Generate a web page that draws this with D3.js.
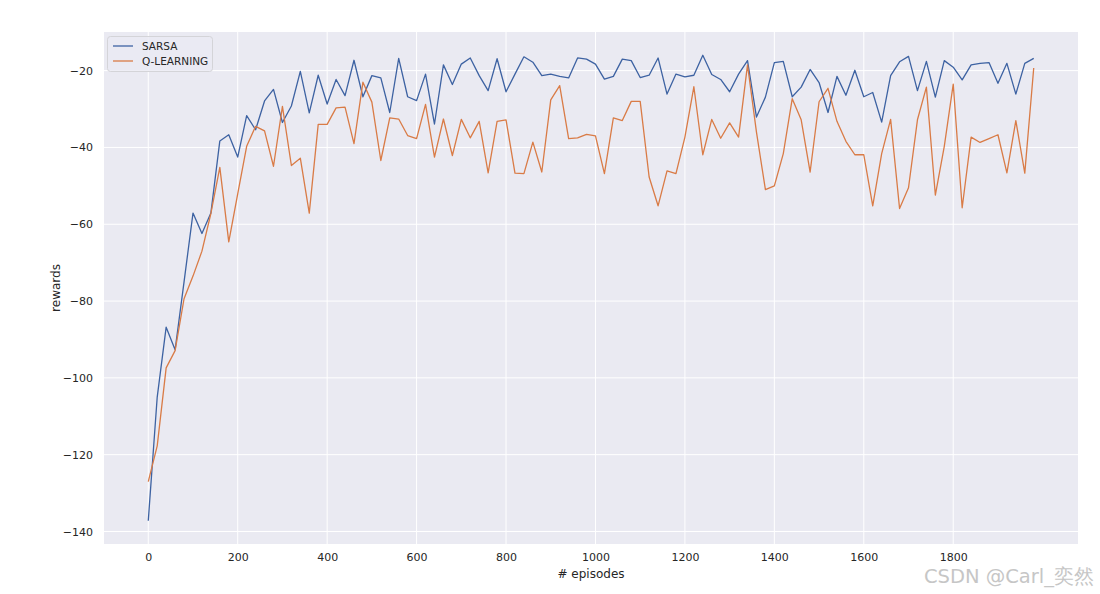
<!DOCTYPE html>
<html>
<head>
<meta charset="utf-8">
<script src="https://cdn.jsdelivr.net/npm/d3@7"></script>
<style>
  body { margin: 0; background: #fff; }
  text { font-family: "DejaVu Sans", sans-serif; }
</style>
</head>
<body>
<svg id="chart"></svg>
<script>
// episodes 0, 20, ..., 1980
let episodes = d3.range(0, 2000, 20);

let sarsa = [
  -137.2, -105.0, -86.8, -92.7, -75.0, -57.1, -62.4, -57.1, -38.3, -36.7,
  -42.5, -31.7, -35.4, -27.9, -24.9, -33.5, -29.2, -20.2, -31.0, -21.2,
  -28.7, -22.3, -26.5, -17.3, -26.8, -21.3, -21.9, -30.9, -16.8, -26.8,
  -27.8, -20.9, -33.9, -18.5, -23.6, -18.3, -16.7, -21.3, -25.2, -16.9,
  -25.5, -20.9, -16.4, -17.8, -21.3, -20.9, -21.5, -21.9, -16.7, -17.0,
  -18.3, -22.2, -21.5, -17.0, -17.4, -21.8, -21.2, -16.7, -26.1, -20.9,
  -21.6, -21.2, -16.0, -21.0, -22.3, -25.5, -20.9, -17.4, -32.1, -26.9,
  -17.9, -17.6, -26.8, -24.3, -19.7, -23.1, -30.9, -21.5, -26.4, -19.9,
  -26.8, -25.7, -33.4, -21.3, -17.7, -16.3, -25.2, -17.6, -26.9, -17.4,
  -19.1, -22.4, -18.5, -18.1, -17.9, -23.3, -18.1, -26.1, -18.1, -16.8
];

let qlearning = [
  -127.0, -117.7, -97.4, -92.9, -79.4, -73.5, -67.0, -57.2, -45.2, -64.6,
  -52.1, -39.7, -34.5, -35.7, -44.9, -29.3, -44.7, -42.8, -57.1, -34.0,
  -34.0, -29.7, -29.5, -39.0, -23.0, -28.2, -43.4, -32.3, -32.6, -36.9,
  -37.7, -28.8, -42.5, -32.6, -42.1, -32.7, -37.5, -33.2, -46.6, -33.2,
  -32.8, -46.7, -46.8, -38.6, -46.4, -27.6, -23.9, -37.7, -37.5, -36.6,
  -37.0, -46.8, -32.3, -33.0, -28.0, -28.0, -47.7, -55.2, -46.1, -46.8,
  -37.3, -24.2, -41.9, -32.7, -37.6, -33.6, -37.3, -18.5, -36.0, -51.0,
  -50.0, -41.6, -27.3, -32.8, -46.4, -28.1, -24.6, -33.2, -38.4, -41.9,
  -41.9, -55.2, -41.6, -32.7, -55.9, -50.5, -32.8, -24.3, -52.4, -39.7,
  -23.5, -55.7, -37.3, -38.7, -37.7, -36.7, -46.6, -33.0, -46.7, -19.3
];

let seriesNames = ["SARSA", "Q-LEARNING"];
let seriesColors = ["#3d62a2", "#d97b46"];
let xTicks = [0, 200, 400, 600, 800, 1000, 1200, 1400, 1600, 1800];
let yTicks = [-140, -120, -100, -80, -60, -40, -20];

let size = {width: 1100, height: 594};
let margin = {left: 104, right: 22, top: 32, bottom: 50};

let svg = d3.select("#chart")
  .attr("width", size.width)
  .attr("height", size.height);

// matplotlib style 5% margins
let xExt = d3.extent(episodes);
let xPad = (xExt[1] - xExt[0]) * 0.05;
let yExt = d3.extent(sarsa.concat(qlearning));
let yPad = (yExt[1] - yExt[0]) * 0.05;

let x = d3.scaleLinear()
  .domain([xExt[0] - xPad, xExt[1] + xPad])
  .range([margin.left, size.width - margin.right]);

let y = d3.scaleLinear()
  .domain([yExt[0] - yPad, yExt[1] + yPad])
  .range([size.height - margin.bottom, margin.top]);

// background
svg.append("rect")
  .attr("x", margin.left)
  .attr("y", margin.top)
  .attr("width", size.width - margin.left - margin.right)
  .attr("height", size.height - margin.top - margin.bottom)
  .attr("fill", "#eaeaf2");

let fmt = d => d < 0 ? "\u2212" + Math.abs(d) : "" + d;

// grid
svg.append("g")
  .selectAll("line")
  .data(xTicks)
  .enter().append("line")
  .attr("x1", d => x(d)).attr("x2", d => x(d))
  .attr("y1", margin.top).attr("y2", size.height - margin.bottom)
  .attr("stroke", "white").attr("stroke-width", 1);

svg.append("g")
  .selectAll("line")
  .data(yTicks)
  .enter().append("line")
  .attr("x1", margin.left).attr("x2", size.width - margin.right)
  .attr("y1", d => y(d)).attr("y2", d => y(d))
  .attr("stroke", "white").attr("stroke-width", 1);

// axes (no tick marks, seaborn darkgrid)
let xAxis = svg.append("g")
  .attr("transform", `translate(0,${size.height - margin.bottom})`)
  .call(d3.axisBottom(x).tickValues(xTicks).tickFormat(fmt).tickSize(0).tickPadding(9));
let yAxis = svg.append("g")
  .attr("transform", `translate(${margin.left},0)`)
  .call(d3.axisLeft(y).tickValues(yTicks).tickFormat(fmt).tickSize(0).tickPadding(11));

[xAxis, yAxis].forEach(a => {
  a.select(".domain").remove();
  a.selectAll("text")
    .attr("font-family", "DejaVu Sans")
    .attr("font-size", "11px")
    .attr("fill", "#262626");
});

// lines
let line = d3.line()
  .x((d, i) => x(episodes[i]))
  .y(d => y(d));

[sarsa, qlearning].forEach((s, k) => {
  svg.append("path")
    .datum(s)
    .attr("fill", "none")
    .attr("stroke", seriesColors[k])
    .attr("stroke-width", 1.3)
    .attr("stroke-linejoin", "round")
    .attr("d", line);
});

// axis labels
svg.append("text")
  .attr("x", (margin.left + size.width - margin.right) / 2)
  .attr("y", 578)
  .attr("text-anchor", "middle")
  .attr("font-size", "12px")
  .attr("fill", "#262626")
  .text("# episodes");

svg.append("text")
  .attr("transform", `translate(60,${(margin.top + size.height - margin.bottom) / 2}) rotate(-90)`)
  .attr("text-anchor", "middle")
  .attr("font-size", "12px")
  .attr("fill", "#262626")
  .text("rewards");

// legend
let legend = svg.append("g");
legend.append("rect")
  .attr("x", 107.5).attr("y", 36.5)
  .attr("width", 105).attr("height", 35)
  .attr("rx", 3)
  .attr("fill", "#eaeaf2")
  .attr("fill-opacity", 0.8)
  .attr("stroke", "#d4d4d8");

legend.selectAll("g")
  .data(seriesNames)
  .enter().append("g")
  .each(function(d, i) {
    let g = d3.select(this);
    let cy = 46 + i * 15;
    g.append("line")
      .attr("x1", 113).attr("x2", 133)
      .attr("y1", cy).attr("y2", cy)
      .attr("stroke", seriesColors[i])
      .attr("stroke-width", 1.3);
    g.append("text")
      .attr("x", 142).attr("y", cy + 4)
      .attr("font-size", "10.5px")
      .attr("fill", "#262626")
      .text(d);
  });

// watermark
svg.append("text")
  .attr("x", 1094)
  .attr("y", 583)
  .attr("text-anchor", "end")
  .attr("font-family", "'Liberation Sans', 'Noto Sans CJK SC', sans-serif")
  .attr("font-size", "19.5px")
  .attr("fill", "#c6c6c6")
  .text("CSDN @Carl_奕然");
</script>
</body>
</html>
